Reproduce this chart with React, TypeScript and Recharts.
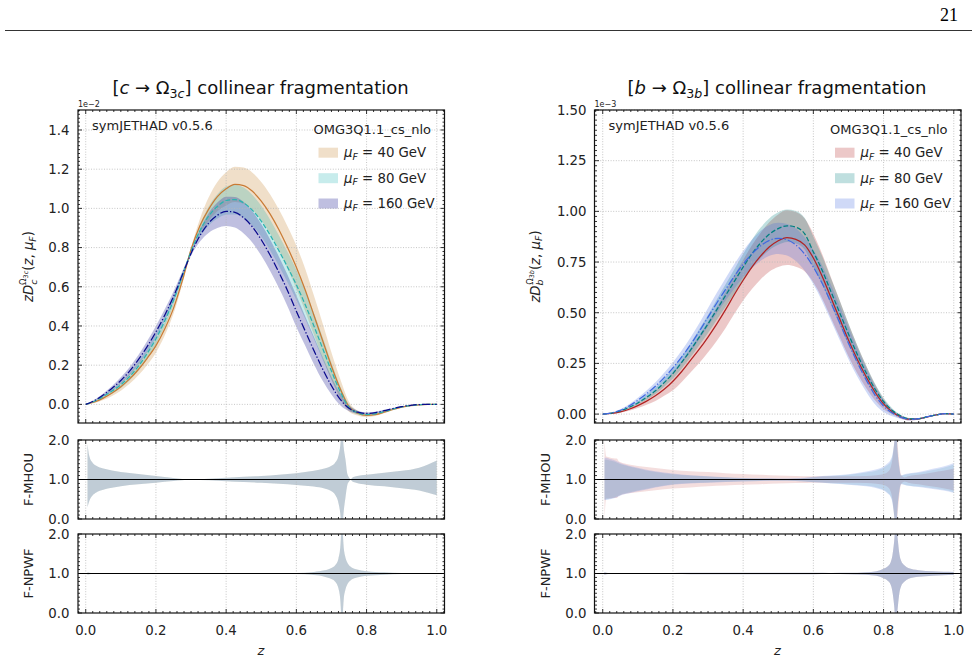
import React from 'react';
import { ComposedChart, Area, Line, XAxis, YAxis, ReferenceLine } from 'recharts';

// z grid of the two main panels (units: 1e-2 left, 1e-3 right)
const zMain = [
  0, 0.025, 0.05, 0.075, 0.1, 0.125, 0.15, 0.175, 0.2, 0.225, 0.25, 0.275, 0.3, 0.325, 0.35, 0.375, 0.4,
  0.425, 0.45, 0.475, 0.5, 0.525, 0.55, 0.575, 0.6, 0.625, 0.65, 0.675, 0.7, 0.725, 0.75, 0.775, 0.8,
  0.825, 0.85, 0.875, 0.9, 0.925, 0.95, 0.975, 1,
];

// [c -> Omega_3c], central values
const mid40L = [0, .012, .032, .058, .09, .13, .178, .235, .30, .385, .49, .63, .79, .91, .995, 1.06, 1.10, 1.122, 1.116, 1.087, 1.037, .972, .892, .80, .70, .585, .455, .325, .195, .08, -.012, -.045, -.056, -.052, -.04, -.026, -.014, -.006, -.002, 0, 0];
const mid80L = [0, .016, .04, .068, .10, .142, .195, .26, .335, .425, .53, .655, .78, .885, .96, 1.01, 1.04, 1.045, 1.028, .99, .935, .865, .785, .70, .61, .51, .40, .285, .17, .065, -.015, -.043, -.052, -.048, -.037, -.024, -.013, -.006, -.002, 0, 0];
const mid160L = [0, .02, .048, .082, .122, .17, .228, .295, .37, .455, .55, .66, .77, .86, .925, .965, .985, .98, .952, .905, .84, .762, .675, .58, .475, .375, .275, .18, .095, .025, -.02, -.04, -.046, -.042, -.032, -.021, -.011, -.005, -.001, 0, 0];
// band half widths
const hw40L = [0, .005, .01, .015, .02, .025, .03, .034, .036, .034, .028, .018, .01, .035, .06, .075, .085, .09, .092, .095, .098, .10, .104, .108, .11, .108, .10, .088, .07, .05, .025, .012, .009, .007, .005, .004, .003, .002, .001, 0, 0];
const hw80L = [0, .004, .008, .012, .016, .02, .024, .027, .029, .028, .024, .016, .01, .028, .048, .062, .072, .076, .078, .078, .078, .078, .078, .078, .077, .073, .067, .057, .043, .028, .014, .008, .006, .005, .004, .003, .002, .001, .001, 0, 0];
const hw160L = [0, .004, .008, .012, .016, .02, .024, .028, .03, .03, .026, .018, .012, .03, .05, .065, .075, .078, .08, .08, .08, .08, .08, .08, .08, .075, .07, .06, .045, .03, .015, .008, .006, .005, .004, .003, .002, .001, .001, 0, 0];

// [b -> Omega_3b], central values
const mid40R = [0, .003, .011, .024, .042, .064, .09, .122, .162, .21, .265, .32, .38, .445, .515, .59, .66, .725, .78, .825, .855, .87, .862, .835, .77, .68, .575, .47, .365, .27, .185, .11, .05, .01, -.015, -.026, -.024, -.014, -.004, .002, 0];
const mid80R = [0, .005, .016, .033, .055, .083, .115, .155, .20, .255, .315, .38, .445, .515, .585, .655, .725, .79, .845, .888, .915, .929, .922, .89, .80, .71, .605, .50, .395, .295, .205, .125, .062, .018, -.01, -.024, -.023, -.013, -.004, .002, 0];
const mid160R = [0, .006, .019, .04, .068, .1, .137, .18, .228, .282, .342, .408, .478, .548, .615, .68, .74, .79, .83, .857, .867, .86, .835, .79, .725, .645, .55, .45, .35, .255, .17, .095, .04, .005, -.016, -.026, -.023, -.013, -.004, .002, 0];
const hw40R = [0, .001, .004, .007, .012, .018, .025, .032, .045, .052, .06, .068, .075, .083, .09, .095, .10, .108, .115, .122, .13, .135, .135, .13, .12, .11, .10, .09, .08, .068, .055, .04, .025, .012, .008, .006, .004, .003, .002, .001, 0];
const hw80R = [0, .001, .003, .005, .008, .012, .016, .02, .025, .03, .035, .04, .045, .05, .055, .06, .065, .07, .075, .078, .08, .08, .08, .078, .075, .07, .065, .06, .052, .045, .036, .027, .018, .01, .006, .005, .004, .003, .002, .001, 0];
const hw160R = [0, .002, .005, .008, .012, .016, .02, .024, .028, .032, .036, .04, .045, .05, .055, .06, .065, .07, .074, .076, .077, .078, .08, .082, .085, .088, .088, .085, .08, .07, .058, .045, .03, .016, .008, .006, .004, .003, .002, .001, 0];

// ratio panels, left column
const zRatioL = [0.005, 0.01, 0.02, 0.03, 0.05, 0.075, 0.1, 0.15, 0.2, 0.25, 0.3, 0.35, 0.4, 0.45, 0.5, 0.55, 0.6, 0.65, 0.68, 0.7, 0.71, 0.72, 0.725, 0.73, 0.735, 0.74, 0.745, 0.75, 0.755, 0.76, 0.77, 0.8, 0.85, 0.9, 0.95, 1.0];
const mhouHiL = [1.9, 1.6, 1.42, 1.35, 1.28, 1.23, 1.19, 1.14, 1.09, 1.04, 1.005, 1.02, 1.045, 1.07, 1.09, 1.12, 1.16, 1.22, 1.28, 1.35, 1.42, 1.6, 1.85, 2.3, 1.8, 1.5, 1.15, 1.05, 1.01, 1.05, 1.08, 1.12, 1.17, 1.22, 1.3, 1.48];
const mhouLoL = [0.3, 0.45, 0.6, 0.67, 0.74, 0.79, 0.83, 0.88, 0.92, 0.965, 0.995, 0.98, 0.955, 0.935, 0.915, 0.89, 0.86, 0.82, 0.77, 0.7, 0.62, 0.4, 0.15, -0.3, 0.2, 0.55, 0.85, 0.95, 0.99, 0.95, 0.92, 0.87, 0.83, 0.78, 0.72, 0.6];
const npwfDevL = [0.03, 0.02, 0.012, 0.01, 0.009, 0.008, 0.008, 0.008, 0.007, 0.007, 0.007, 0.007, 0.007, 0.007, 0.008, 0.01, 0.015, 0.04, 0.08, 0.14, 0.2, 0.38, 0.65, 1.3, 0.65, 0.4, 0.28, 0.21, 0.17, 0.14, 0.11, 0.06, 0.032, 0.015, 0.008, 0.005];

// ratio panels, right column
const zRatioR = [0.005, 0.01, 0.02, 0.03, 0.04, 0.045, 0.05, 0.075, 0.1, 0.15, 0.2, 0.25, 0.3, 0.35, 0.4, 0.45, 0.5, 0.55, 0.6, 0.65, 0.7, 0.75, 0.78, 0.8, 0.81, 0.82, 0.825, 0.83, 0.835, 0.84, 0.845, 0.85, 0.86, 0.87, 0.9, 0.94, 0.97, 1.0];
const mhouHi40R = [2.0, 1.58, 1.56, 1.54, 1.53, 1.47, 1.44, 1.38, 1.34, 1.29, 1.24, 1.21, 1.19, 1.16, 1.14, 1.12, 1.10, 1.09, 1.085, 1.085, 1.085, 1.09, 1.11, 1.14, 1.18, 1.3, 1.5, 1.9, 2.4, 1.9, 1.4, 1.12, 1.05, 1.08, 1.12, 1.18, 1.22, 1.28];
const mhouLo40R = [0.0, 0.52, 0.52, 0.53, 0.53, 0.58, 0.6, 0.65, 0.68, 0.73, 0.77, 0.8, 0.83, 0.85, 0.865, 0.88, 0.9, 0.91, 0.92, 0.92, 0.92, 0.91, 0.89, 0.86, 0.82, 0.7, 0.5, 0.1, -0.4, 0.1, 0.6, 0.88, 0.95, 0.92, 0.88, 0.82, 0.78, 0.72];
const mhouHi80R = [1.5, 1.5, 1.48, 1.46, 1.43, 1.41, 1.39, 1.33, 1.28, 1.19, 1.13, 1.1, 1.075, 1.055, 1.035, 1.025, 1.02, 1.025, 1.06, 1.09, 1.12, 1.18, 1.23, 1.3, 1.36, 1.45, 1.58, 1.9, 2.4, 1.7, 1.28, 1.1, 1.12, 1.14, 1.17, 1.24, 1.3, 1.38];
const mhouLo80R = [0.5, 0.5, 0.52, 0.54, 0.57, 0.59, 0.61, 0.67, 0.72, 0.81, 0.88, 0.91, 0.925, 0.94, 0.955, 0.965, 0.97, 0.965, 0.935, 0.905, 0.875, 0.84, 0.8, 0.74, 0.68, 0.58, 0.45, 0.1, -0.4, 0.3, 0.72, 0.89, 0.87, 0.85, 0.82, 0.78, 0.74, 0.68];
const mhouHi160R = [1.55, 1.55, 1.52, 1.5, 1.46, 1.44, 1.42, 1.35, 1.3, 1.21, 1.15, 1.11, 1.085, 1.06, 1.04, 1.03, 1.025, 1.03, 1.07, 1.1, 1.13, 1.2, 1.26, 1.33, 1.4, 1.5, 1.62, 1.9, 2.4, 1.7, 1.3, 1.1, 1.13, 1.15, 1.19, 1.27, 1.33, 1.42];
const mhouLo160R = [0.48, 0.48, 0.5, 0.52, 0.55, 0.57, 0.59, 0.65, 0.7, 0.8, 0.87, 0.9, 0.915, 0.935, 0.95, 0.96, 0.966, 0.96, 0.93, 0.9, 0.87, 0.83, 0.78, 0.72, 0.66, 0.56, 0.42, 0.1, -0.4, 0.3, 0.7, 0.88, 0.86, 0.84, 0.81, 0.76, 0.72, 0.66];
const npwfDevR = [0.04, 0.02, 0.015, 0.012, 0.012, 0.012, 0.012, 0.012, 0.012, 0.013, 0.014, 0.016, 0.018, 0.02, 0.02, 0.02, 0.02, 0.018, 0.016, 0.015, 0.016, 0.03, 0.06, 0.12, 0.17, 0.28, 0.45, 0.8, 1.3, 0.9, 0.5, 0.32, 0.2, 0.14, 0.085, 0.055, 0.045, 0.04];

const scaleLabels = ['40', '80', '160'];

const FONT = '"DejaVu Sans", Verdana, sans-serif';
const X_DOMAIN: [number, number] = [-0.022, 1.022];
const X_MAJOR = [0, 0.2, 0.4, 0.6, 0.8, 1.0];

const steps = (a: number, b: number, s: number) => {
  const out: number[] = [];
  for (let i = 0; a + i * s <= b + 1e-9; i++) out.push(+(a + i * s).toFixed(4));
  return out;
};
const X_TICKS = steps(-0.02, 1.02, 0.02);

const band = (mid: number[], hw: number[], i: number) => [mid[i] - hw[i], mid[i] + hw[i]];

const rowsMainL = zMain.map((z, i) => ({
  z, m40: mid40L[i], m80: mid80L[i], m160: mid160L[i],
  b40: band(mid40L, hw40L, i), b80: band(mid80L, hw80L, i), b160: band(mid160L, hw160L, i),
}));
const rowsMainR = zMain.map((z, i) => ({
  z, m40: mid40R[i], m80: mid80R[i], m160: mid160R[i],
  b40: band(mid40R, hw40R, i), b80: band(mid80R, hw80R, i), b160: band(mid160R, hw160R, i),
}));
const rowsMhouL = zRatioL.map((z, i) => ({
  z, b40: [mhouLoL[i], mhouHiL[i]], b80: [mhouLoL[i], mhouHiL[i]], b160: [mhouLoL[i], mhouHiL[i]],
}));
const rowsNpwfL = zRatioL.map((z, i) => ({
  z, b40: [1 - npwfDevL[i], 1 + npwfDevL[i]], b80: [1 - npwfDevL[i], 1 + npwfDevL[i]], b160: [1 - npwfDevL[i], 1 + npwfDevL[i]],
}));
const rowsMhouR = zRatioR.map((z, i) => ({
  z, b40: [mhouLo40R[i], mhouHi40R[i]], b80: [mhouLo80R[i], mhouHi80R[i]], b160: [mhouLo160R[i], mhouHi160R[i]],
}));
const rowsNpwfR = zRatioR.map((z, i) => ({
  z, b40: [1 - npwfDevR[i], 1 + npwfDevR[i]], b80: [1 - npwfDevR[i], 1 + npwfDevR[i]], b160: [1 - npwfDevR[i], 1 + npwfDevR[i]],
}));

type BandSpec = { key: string; fill: string; opacity: number };
type LineSpec = { key: string; stroke: string; dash?: string };

const bandsMainL: BandSpec[] = [
  { key: 'b40', fill: '#deb887', opacity: 0.45 },
  { key: 'b80', fill: '#00aaaa', opacity: 0.22 },
  { key: 'b160', fill: '#3c3ca0', opacity: 0.33 },
];
const bandsRatioL: BandSpec[] = [
  { key: 'b40', fill: '#deb887', opacity: 0.2 },
  { key: 'b80', fill: '#00aaaa', opacity: 0.12 },
  { key: 'b160', fill: '#3c3ca0', opacity: 0.16 },
];
const bandsMainR: BandSpec[] = [
  { key: 'b40', fill: '#b22222', opacity: 0.25 },
  { key: 'b80', fill: '#008080', opacity: 0.25 },
  { key: 'b160', fill: '#4169e1', opacity: 0.25 },
];
const bandsRatioR: BandSpec[] = [
  { key: 'b40', fill: '#b22222', opacity: 0.15 },
  { key: 'b80', fill: '#008080', opacity: 0.13 },
  { key: 'b160', fill: '#4169e1', opacity: 0.2 },
];
const linesL: LineSpec[] = [
  { key: 'm40', stroke: '#c97b35' },
  { key: 'm80', stroke: '#2bb3b0', dash: '4.8 2.1' },
  { key: 'm160', stroke: '#0a0a8c', dash: '8 2 1.3 2' },
];
const linesR: LineSpec[] = [
  { key: 'm40', stroke: '#b22222' },
  { key: 'm80', stroke: '#008080', dash: '4.8 2.1' },
  { key: 'm160', stroke: '#4169e1', dash: '8 2 1.3 2' },
];

interface PanelProps {
  box: [number, number, number, number];
  data: any[];
  yDomain: [number, number];
  yMajor: number[];
  yTicks: number[];
  yDigits: number;
  xLabels?: boolean;
  hGrid?: boolean;
  unity?: boolean;
  bands: BandSpec[];
  lines?: LineSpec[];
}

const isIn = (arr: number[], v: number) => arr.some((m) => Math.abs(m - v) < 1e-6);

function Panel({ box, data, yDomain, yMajor, yTicks, yDigits, xLabels, hGrid, unity, bands, lines = [] }: PanelProps) {
  const [x0, y0, x1, y1] = box;
  const PL = 80, PR = 6, PT = 12, PB = xLabels ? 32 : 12;
  const w = x1 - x0, h = y1 - y0;
  const W = w + PL + PR, H = h + PT + PB;
  const top = PT, bot = PT + h, lft = PL, rgt = PL + w;

  const xTick = (p: any) => {
    const v = p.payload.value;
    const x = p.x;
    const major = isIn(X_MAJOR, v);
    const len = major ? 4 : 2;
    return (
      <g>
        <line x1={x} x2={x} y1={bot} y2={bot - len} stroke="#000" strokeWidth={0.8} />
        <line x1={x} x2={x} y1={top} y2={top + len} stroke="#000" strokeWidth={0.8} />
        {xLabels && major && (
          <text x={x} y={bot + 22} textAnchor="middle" fontSize={13.3} fontFamily={FONT} fill="#222">
            {v.toFixed(1)}
          </text>
        )}
      </g>
    );
  };
  const yTick = (p: any) => {
    const v = p.payload.value;
    const y = p.y;
    const major = isIn(yMajor, v);
    const len = major ? 4 : 2;
    return (
      <g>
        <line x1={lft} x2={lft + len} y1={y} y2={y} stroke="#000" strokeWidth={0.8} />
        <line x1={rgt} x2={rgt - len} y1={y} y2={y} stroke="#000" strokeWidth={0.8} />
        {major && (
          <text x={lft - 8.5} y={y + 4.8} textAnchor="end" fontSize={13.3} fontFamily={FONT} fill="#222">
            {v.toFixed(yDigits)}
          </text>
        )}
      </g>
    );
  };

  return (
    <div style={{ position: 'absolute', left: x0 - PL, top: y0 - PT, width: W, height: H }}>
      <ComposedChart width={W} height={H} data={data} margin={{ top: PT, right: PR, bottom: 0, left: 0 }}>
        {X_MAJOR.map((v) => (
          <ReferenceLine key={'gx' + v} x={v} stroke="#b8b8b8" strokeDasharray="1 1.6" strokeWidth={0.8} />
        ))}
        {hGrid &&
          yMajor.map((v) => (
            <ReferenceLine key={'gy' + v} y={v} stroke="#b8b8b8" strokeDasharray="1 1.6" strokeWidth={0.8} />
          ))}
        {bands.map((b) => (
          <Area
            key={b.key}
            dataKey={b.key}
            type="monotone"
            stroke="none"
            fill={b.fill}
            fillOpacity={b.opacity}
            dot={false}
            activeDot={false}
            isAnimationActive={false}
          />
        ))}
        {lines.map((l) => (
          <Line
            key={l.key}
            dataKey={l.key}
            type="monotone"
            stroke={l.stroke}
            strokeWidth={1.25}
            strokeDasharray={l.dash}
            dot={false}
            activeDot={false}
            isAnimationActive={false}
          />
        ))}
        {unity && <ReferenceLine y={1} stroke="#000" strokeWidth={1.2} />}
        <XAxis
          dataKey="z"
          type="number"
          domain={X_DOMAIN}
          allowDataOverflow
          ticks={X_TICKS}
          interval={0}
          tick={xTick}
          tickLine={false}
          axisLine={false}
          tickSize={0}
          tickMargin={0}
          height={PB}
        />
        <YAxis
          type="number"
          domain={yDomain}
          allowDataOverflow
          ticks={yTicks}
          interval={0}
          tick={yTick}
          tickLine={false}
          axisLine={false}
          tickSize={0}
          tickMargin={0}
          width={PL}
        />
      </ComposedChart>
    </div>
  );
}

// frames of the six panels, page pixels
const BOX_MAIN_L: [number, number, number, number] = [78, 110, 444.5, 423];
const BOX_MHOU_L: [number, number, number, number] = [78, 440, 444.5, 519];
const BOX_NPWF_L: [number, number, number, number] = [78, 534, 444.5, 613];
const BOX_MAIN_R: [number, number, number, number] = [594.5, 110, 961, 423];
const BOX_MHOU_R: [number, number, number, number] = [594.5, 440, 961, 519];
const BOX_NPWF_R: [number, number, number, number] = [594.5, 534, 961, 613];

const RATIO_MAJOR = [0, 1, 2];
const RATIO_TICKS = steps(0, 2, 0.1);

function MuLabel({ x, y, val }: { x: number; y: number; val: string }) {
  return (
    <text x={x} y={y} fontSize={13.3} fontFamily={FONT} fill="#222">
      <tspan fontStyle="italic">μ</tspan>
      <tspan fontSize={9.3} fontStyle="italic" dy={2.5}>F</tspan>
      <tspan dy={-2.5}>{' = ' + val + ' GeV'}</tspan>
    </text>
  );
}

function Legend({ patchX, textX, titleX, bands }: { patchX: number; textX: number; titleX: number; bands: BandSpec[] }) {
  const rowsY = [152.7, 178.2, 203.5];
  return (
    <g>
      <text x={titleX} y={133.5} textAnchor="end" fontSize={13} fontFamily={FONT} fill="#222">
        OMG3Q1.1_cs_nlo
      </text>
      {bands.map((b, i) => (
        <g key={b.key}>
          <rect x={patchX} y={rowsY[i] - 5} width={19.5} height={10} fill={b.fill} fillOpacity={b.opacity} />
          <MuLabel x={textX} y={rowsY[i] + 4.6} val={scaleLabels[i]} />
        </g>
      ))}
    </g>
  );
}

function Frame({ box }: { box: [number, number, number, number] }) {
  const [x0, y0, x1, y1] = box;
  return <rect x={x0} y={y0} width={x1 - x0} height={y1 - y0} fill="none" stroke="#111" strokeWidth={1.2} />;
}

function DLabel({ x, q }: { x: number; q: string }) {
  return (
    <text transform={`translate(${x},266.5) rotate(-90)`} textAnchor="middle" fontSize={13.3} fontFamily={FONT} fill="#222">
      <tspan fontStyle="italic">zD</tspan>
      <tspan fontSize={9.5} fontStyle="italic" dy={3.5}>{q}</tspan>
      <tspan fontSize={8.5} dx={-5.5} dy={-10.5}>Ω</tspan>
      <tspan fontSize={6.5} dy={1.5}>3</tspan>
      <tspan fontSize={6.5} fontStyle="italic">{q}</tspan>
      <tspan dy={5.5}>(</tspan>
      <tspan fontStyle="italic">z</tspan>
      <tspan>, </tspan>
      <tspan fontStyle="italic">μ</tspan>
      <tspan fontSize={9.3} fontStyle="italic" dy={2.5}>F</tspan>
      <tspan dy={-2.5}>)</tspan>
    </text>
  );
}

export default function App() {
  const mainTicksL = steps(-0.08, 1.5, 0.02);
  const mainMajorL = [0, 0.2, 0.4, 0.6, 0.8, 1.0, 1.2, 1.4];
  const mainTicksR = steps(-0.025, 1.5, 0.025);
  const mainMajorR = [0, 0.25, 0.5, 0.75, 1.0, 1.25, 1.5];
  return (
    <div style={{ position: 'absolute', left: 0, top: 0, width: 977, height: 662, background: '#fff', overflow: 'hidden' }}>
      <Panel box={BOX_MAIN_L} data={rowsMainL} yDomain={[-0.095, 1.502]} yMajor={mainMajorL} yTicks={mainTicksL} yDigits={1} hGrid bands={bandsMainL} lines={linesL} />
      <Panel box={BOX_MHOU_L} data={rowsMhouL} yDomain={[0, 2]} yMajor={RATIO_MAJOR} yTicks={RATIO_TICKS} yDigits={1} unity bands={bandsRatioL} />
      <Panel box={BOX_NPWF_L} data={rowsNpwfL} yDomain={[0, 2]} yMajor={RATIO_MAJOR} yTicks={RATIO_TICKS} yDigits={1} unity xLabels bands={bandsRatioL} />
      <Panel box={BOX_MAIN_R} data={rowsMainR} yDomain={[-0.044, 1.5]} yMajor={mainMajorR} yTicks={mainTicksR} yDigits={2} hGrid bands={bandsMainR} lines={linesR} />
      <Panel box={BOX_MHOU_R} data={rowsMhouR} yDomain={[0, 2]} yMajor={RATIO_MAJOR} yTicks={RATIO_TICKS} yDigits={1} unity bands={bandsRatioR} />
      <Panel box={BOX_NPWF_R} data={rowsNpwfR} yDomain={[0, 2]} yMajor={RATIO_MAJOR} yTicks={RATIO_TICKS} yDigits={1} unity xLabels bands={bandsRatioR} />

      <svg width={977} height={662} style={{ position: 'absolute', left: 0, top: 0, pointerEvents: 'none' }}>
        {/* page header */}
        <text x={958} y={21} textAnchor="end" fontSize={18} fontFamily='"Liberation Serif", "DejaVu Serif", serif' fill="#000">21</text>
        <line x1={5} x2={972} y1={30.5} y2={30.5} stroke="#000" strokeWidth={0.8} />

        {[BOX_MAIN_L, BOX_MHOU_L, BOX_NPWF_L, BOX_MAIN_R, BOX_MHOU_R, BOX_NPWF_R].map((b, i) => (
          <Frame key={i} box={b} />
        ))}

        {/* titles */}
        <text x={260.5} y={93.5} textAnchor="middle" fontSize={18} fontFamily={FONT} fill="#111">
          [<tspan fontStyle="italic">c</tspan>{' → Ω'}
          <tspan fontSize={12.6} dy={4}>3</tspan>
          <tspan fontSize={12.6} fontStyle="italic">c</tspan>
          <tspan dy={-4}>] collinear fragmentation</tspan>
        </text>
        <text x={777} y={93.5} textAnchor="middle" fontSize={18} fontFamily={FONT} fill="#111">
          [<tspan fontStyle="italic">b</tspan>{' → Ω'}
          <tspan fontSize={12.6} dy={4}>3</tspan>
          <tspan fontSize={12.6} fontStyle="italic">b</tspan>
          <tspan dy={-4}>] collinear fragmentation</tspan>
        </text>

        {/* offset texts */}
        <text x={78} y={106.5} fontSize={8} fontFamily={FONT} fill="#222">1e−2</text>
        <text x={594.5} y={106.5} fontSize={8} fontFamily={FONT} fill="#222">1e−3</text>

        {/* annotations */}
        <text x={92} y={129.5} fontSize={13} fontFamily={FONT} fill="#222">symJETHAD v0.5.6</text>
        <text x={608.5} y={129.5} fontSize={13} fontFamily={FONT} fill="#222">symJETHAD v0.5.6</text>
        <Legend patchX={318.5} textX={344} titleX={431} bands={bandsMainL} />
        <Legend patchX={835} textX={860.5} titleX={947.5} bands={bandsMainR} />

        {/* y labels */}
        <DLabel x={33} q="c" />
        <DLabel x={539.5} q="b" />
        <text transform="translate(33,479.5) rotate(-90)" textAnchor="middle" fontSize={13} fontFamily={FONT} fill="#222">F-MHOU</text>
        <text transform="translate(33,573.5) rotate(-90)" textAnchor="middle" fontSize={13} fontFamily={FONT} fill="#222">F-NPWF</text>
        <text transform="translate(549.5,479.5) rotate(-90)" textAnchor="middle" fontSize={13} fontFamily={FONT} fill="#222">F-MHOU</text>
        <text transform="translate(549.5,573.5) rotate(-90)" textAnchor="middle" fontSize={13} fontFamily={FONT} fill="#222">F-NPWF</text>

        {/* x labels */}
        <text x={261} y={655} textAnchor="middle" fontSize={13} fontStyle="italic" fontFamily={FONT} fill="#222">z</text>
        <text x={777.5} y={655} textAnchor="middle" fontSize={13} fontStyle="italic" fontFamily={FONT} fill="#222">z</text>
      </svg>
    </div>
  );
}
